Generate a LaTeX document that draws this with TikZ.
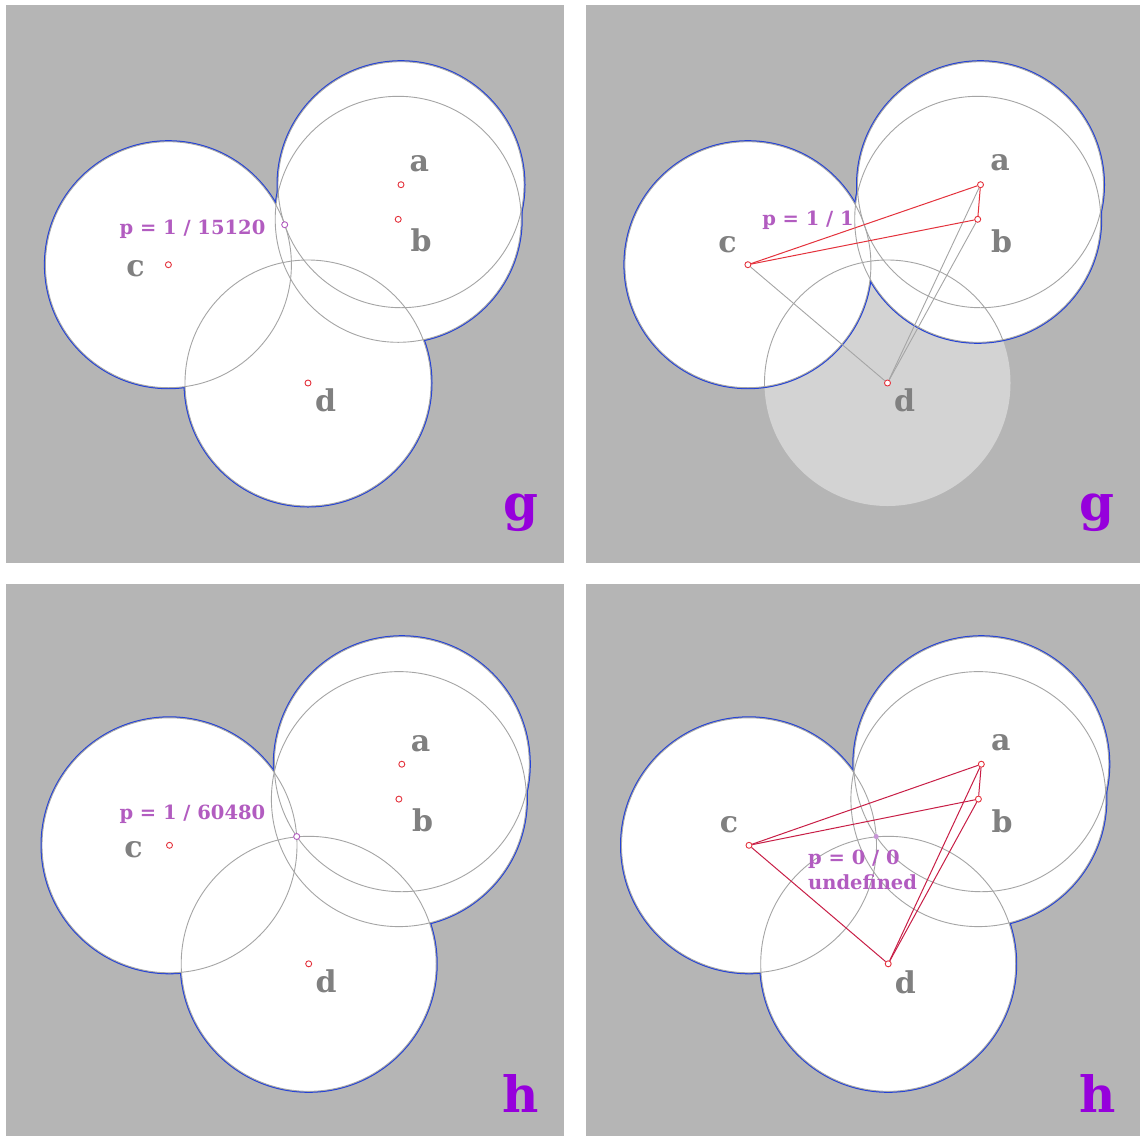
\documentclass[tikz,border=0pt]{standalone}
\usepackage{fontspec}
\setmainfont{DejaVu Serif}
\definecolor{panelgray}{RGB}{181,181,181}
\definecolor{lightdisc}{RGB}{211,211,211}
\definecolor{ringgray}{RGB}{165,165,165}
\definecolor{edgeblue}{RGB}{35,65,215}
\definecolor{lblgray}{RGB}{128,128,128}
\definecolor{plum}{RGB}{178,92,192}
\definecolor{tagpurple}{RGB}{150,0,220}
\definecolor{ptred}{RGB}{228,50,60}
\definecolor{crimsonln}{RGB}{200,30,70}
\definecolor{dotpurple}{RGB}{200,150,215}
\begin{document}
\begin{tikzpicture}[x=1pt,y=-1pt,
  panel/.style={fill=panelgray},
  blueedge/.style={draw=edgeblue,line width=3pt},
  ring/.style={draw=ringgray,line width=0.9pt},
  rpt/.style={circle,draw=ptred,fill=white,line width=0.9pt,inner sep=0pt,minimum size=6pt},
  ppt/.style={circle,draw=plum,fill=white,line width=0.9pt,inner sep=0pt,minimum size=6pt},
  pdot/.style={circle,fill=dotpurple,inner sep=0pt,minimum size=5pt},
  lbl/.style={text=lblgray,font=\fontsize{30}{33}\selectfont\bfseries,inner sep=0pt},
  plbl/.style={text=plum,font=\fontsize{19.5}{25}\selectfont\bfseries,inner sep=0pt},
  tag/.style={text=tagpurple,font=\fontsize{50}{56}\selectfont\bfseries,inner sep=0pt},
  redln/.style={draw=ptred,line width=1pt},
  grayln/.style={draw=ringgray,line width=0.9pt},
  crimln/.style={draw=crimsonln,line width=1pt}]
\useasboundingbox (0,0) rectangle (1140,1136);

% ---------- top-left panel (g) ----------
\fill[panel] (6,5) rectangle (564,563);
\coordinate (A1) at (401,184.7);
\coordinate (B1) at (398.2,219.3);
\coordinate (C1) at (168.4,264.7);
\coordinate (D1) at (308,383);
\foreach \q in {A1,B1,C1,D1} \draw[blueedge] (\q) circle[radius=123pt];
\foreach \q in {A1,B1,C1,D1} \fill[white] (\q) circle[radius=123pt];
\foreach \q in {A1,B1,C1,D1} \draw[ring] (\q) circle[radius=123pt];
\node[rpt] (a1) at (A1) {};
\node[rpt] (b1) at (B1) {};
\node[rpt] (c1) at (C1) {};
\node[rpt] (d1) at (D1) {};
\node[ppt] (p1) at (284.7,224.7) {};
\node[lbl] (la1) at (419.3,163.6) {a};
\node[lbl] (lb1) at (421,240) {b};
\node[lbl] (lc1) at (135.6,269) {c};
\node[lbl] (ld1) at (325.5,400) {d};
\node[plbl] (pt1) at (192.5,229) {p = 1 / 15120};
\node[tag] (g1) at (520.7,512.7) {g};

% ---------- top-right panel (g) ----------
\fill[panel] (586,5) rectangle (1140,563);
\coordinate (A2) at (980.5,184.7);
\coordinate (B2) at (977.7,219.3);
\coordinate (C2) at (747.9,264.7);
\coordinate (D2) at (887.5,383);
\fill[lightdisc] (D2) circle[radius=123pt];
\foreach \q in {A2,B2,C2} \draw[blueedge] (\q) circle[radius=123pt];
\foreach \q in {A2,B2,C2} \fill[white] (\q) circle[radius=123pt];
\foreach \q in {A2,B2,C2} \draw[ring] (\q) circle[radius=123pt];
\begin{scope}
  \clip (A2) circle[radius=123pt] (B2) circle[radius=123pt] (C2) circle[radius=123pt];
  \draw[ring] (D2) circle[radius=123pt];
\end{scope}
\node[rpt] (a2) at (A2) {};
\node[rpt] (b2) at (B2) {};
\node[rpt] (c2) at (C2) {};
\node[rpt] (d2) at (D2) {};
\draw[grayln] (c2) -- (d2);
\draw[grayln] (a2) -- (d2);
\draw[grayln] (b2) -- (d2);
\draw[redln] (c2) -- (a2);
\draw[redln] (c2) -- (b2);
\draw[redln] (a2) -- (b2);
\node[lbl] (la2) at (1000,162.5) {a};
\node[lbl] (lb2) at (1001.6,241) {b};
\node[lbl] (lc2) at (727.5,244.4) {c};
\node[lbl] (ld2) at (904.5,400) {d};
\node[plbl] (pt2) at (808,220) {p = 1 / 1};
\node[tag] (g2) at (1097,512.7) {g};

% ---------- bottom-left panel (h) ----------
\fill[panel] (6,584) rectangle (564,1136);
\coordinate (A3) at (401.8,764.2);
\coordinate (B3) at (398.9,799.1);
\coordinate (C3) at (169.5,845.3);
\coordinate (D3) at (308.7,963.8);
\foreach \q in {A3,B3,C3,D3} \draw[blueedge] (\q) circle[radius=127.5pt];
\foreach \q in {A3,B3,C3,D3} \fill[white] (\q) circle[radius=127.5pt];
\foreach \q in {A3,B3,C3,D3} \draw[ring] (\q) circle[radius=127.5pt];
\node[rpt] (a3) at (A3) {};
\node[rpt] (b3) at (B3) {};
\node[rpt] (c3) at (C3) {};
\node[rpt] (d3) at (D3) {};
\node[ppt] (p3) at (296.7,836.5) {};
\node[lbl] (la3) at (420.7,743.8) {a};
\node[lbl] (lb3) at (422.5,820.2) {b};
\node[lbl] (lc3) at (133.5,850) {c};
\node[lbl] (ld3) at (326.2,981) {d};
\node[plbl] (pt3) at (192.4,814.4) {p = 1 / 60480};
\node[tag] (h3) at (520.7,1093.6) {h};

% ---------- bottom-right panel (h) ----------
\fill[panel] (586,584) rectangle (1140,1136);
\coordinate (A4) at (981.3,764.2);
\coordinate (B4) at (978.4,799.1);
\coordinate (C4) at (749,845.3);
\coordinate (D4) at (888.2,963.8);
\foreach \q in {A4,B4,C4,D4} \draw[blueedge] (\q) circle[radius=127.5pt];
\foreach \q in {A4,B4,C4,D4} \fill[white] (\q) circle[radius=127.5pt];
\foreach \q in {A4,B4,C4,D4} \draw[ring] (\q) circle[radius=127.5pt];
\node[rpt] (a4) at (A4) {};
\node[rpt] (b4) at (B4) {};
\node[rpt] (c4) at (C4) {};
\node[rpt] (d4) at (D4) {};
\draw[crimln] (c4) -- (a4);
\draw[crimln] (c4) -- (b4);
\draw[crimln] (a4) -- (b4);
\draw[crimln] (c4) -- (d4);
\draw[crimln] (a4) -- (d4);
\draw[crimln] (b4) -- (d4);
\node[pdot] (p4) at (876.2,836.5) {};
\node[plbl,align=left,anchor=west] (pt4) at (808,870) {p = 0 / 0\\undefined};
\node[lbl] (la4) at (1000.9,742.7) {a};
\node[lbl] (lb4) at (1002,821) {b};
\node[lbl] (lc4) at (729,824.5) {c};
\node[lbl] (ld4) at (905.3,982.7) {d};
\node[tag] (h4) at (1098,1093.6) {h};
\end{tikzpicture}
\end{document}
